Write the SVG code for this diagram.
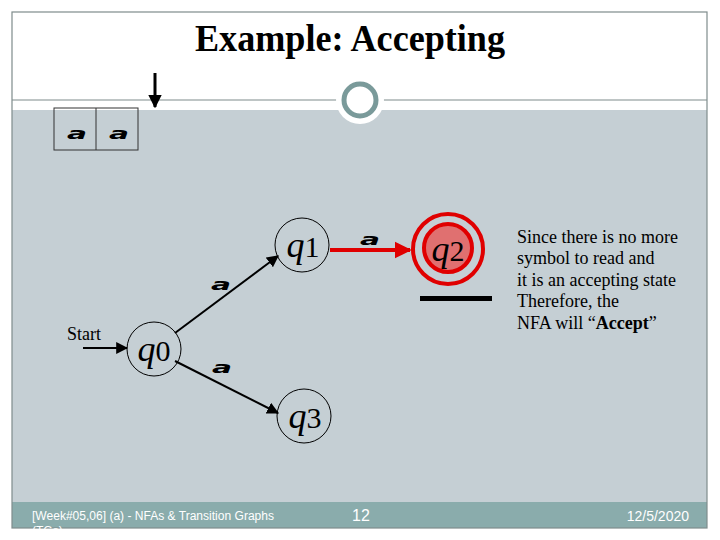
<svg xmlns="http://www.w3.org/2000/svg" width="720" height="540" viewBox="0 0 720 540">
<style>
.node{fill:none;stroke:#000;stroke-width:1}
.ql{font-family:"Liberation Serif",serif;font-size:36px;font-style:italic;fill:#000}
.qs{font-style:normal;font-size:30px}
.sym{font-family:"DejaVu Sans",sans-serif;font-style:italic;font-weight:bold;font-size:16px;fill:#000}
.edge{stroke:#000;stroke-width:2;fill:none}
.txt{font-family:"Liberation Serif",serif;font-size:18px;fill:#000}
.foot{font-family:"Liberation Sans",sans-serif;fill:#fff}
</style>
<defs>
<marker id="ah" viewBox="0 0 10 10" refX="9" refY="5" markerWidth="6" markerHeight="6" orient="auto" markerUnits="strokeWidth"><path d="M0,0 L10,5 L0,10 z" fill="#000"/></marker>
<marker id="ahh" viewBox="0 0 10 10" refX="9" refY="5" markerWidth="4.5" markerHeight="4.5" orient="auto" markerUnits="strokeWidth"><path d="M0,0 L10,5 L0,10 z" fill="#000"/></marker>
<marker id="ahr" viewBox="0 0 10 10" refX="9" refY="5" markerWidth="4.3" markerHeight="4.3" orient="auto" markerUnits="strokeWidth"><path d="M0,0 L10,5 L0,10 z" fill="#e00000"/></marker>
<clipPath id="slide"><rect x="0" y="0" width="720" height="533"/></clipPath>
</defs>
<rect width="720" height="540" fill="#fff"/>
<g id="background">
<rect x="12" y="110" width="695" height="392" fill="#c5cfd4"/>
<rect x="12" y="502" width="695" height="26" fill="#8aacac"/>
<rect x="12" y="12" width="695" height="516" fill="none" stroke="#7f8c8c" stroke-width="1.2"/>
<line x1="12" y1="100" x2="707" y2="100" stroke="#7f8c8c" stroke-width="1.2"/>
<circle cx="360" cy="100" r="24" fill="#fff"/>
<circle cx="360" cy="100" r="16" fill="#fff" stroke="#7a9a9a" stroke-width="5"/>
</g>
<text id="title" x="350" y="51" text-anchor="middle" font-family="Liberation Serif,serif" font-size="37" font-weight="bold" textLength="310" lengthAdjust="spacingAndGlyphs">Example: Accepting</text>
<g id="tape">
<rect x="54" y="108" width="84" height="42" fill="none" stroke="#333" stroke-width="1"/>
<line x1="96" y1="108" x2="96" y2="150" stroke="#333" stroke-width="1"/>
<text class="sym" x="67" y="139" textLength="20" lengthAdjust="spacingAndGlyphs">a</text>
<text class="sym" x="109" y="139" textLength="20" lengthAdjust="spacingAndGlyphs">a</text>
</g>
<g id="head">
<line x1="155" y1="73" x2="155" y2="107" stroke="#000" stroke-width="3" marker-end="url(#ahh)"/>
</g>
<g id="connectors">
<line class="edge" x1="83" y1="348" x2="127" y2="348" marker-end="url(#ah)"/>
<line class="edge" x1="175" y1="333" x2="278" y2="256" marker-end="url(#ah)"/>
<line class="edge" x1="175" y1="361" x2="278" y2="413" marker-end="url(#ah)"/>
<line x1="330" y1="250" x2="410" y2="250" stroke="#e00000" stroke-width="4" marker-end="url(#ahr)"/>
<text class="sym" x="211" y="290" textLength="20" lengthAdjust="spacingAndGlyphs">a</text>
<text class="sym" x="212" y="373" textLength="20" lengthAdjust="spacingAndGlyphs">a</text>
<text class="sym" x="360" y="245" textLength="20" lengthAdjust="spacingAndGlyphs">a</text>
<text class="txt" x="67" y="340" font-size="15">Start</text>
</g>
<g id="q0">
<circle class="node" cx="154" cy="349" r="27"/>
<text class="ql" x="154" y="361" text-anchor="middle">q<tspan class="qs">0</tspan></text>
</g>
<g id="q1">
<circle class="node" cx="302" cy="245" r="27"/>
<text class="ql" x="303" y="257" text-anchor="middle">q<tspan class="qs">1</tspan></text>
</g>
<g id="q2">
<circle cx="448" cy="249" r="35" fill="none" stroke="#e00000" stroke-width="4"/>
<circle cx="448" cy="248" r="24" fill="#e07070" stroke="#e00000" stroke-width="4"/>
<text class="ql" x="448" y="261" text-anchor="middle">q<tspan class="qs">2</tspan></text>
<rect x="420" y="296" width="72" height="5" fill="#000"/>
</g>
<g id="q3">
<circle class="node" cx="304" cy="416" r="27"/>
<text class="ql" x="305" y="428" text-anchor="middle">q<tspan class="qs">3</tspan></text>
</g>
<g id="note">
<text class="txt" x="517" y="243">Since there is no more</text>
<text class="txt" x="517" y="264">symbol to read and</text>
<text class="txt" x="517" y="286">it is an accepting state</text>
<text class="txt" x="517" y="307">Therefore, the</text>
<text class="txt" x="517" y="329">NFA will “<tspan font-weight="bold">Accept</tspan>”</text>
</g>
<g id="footer" clip-path="url(#slide)">
<text class="foot" x="32" y="520" font-size="12" textLength="242" lengthAdjust="spacingAndGlyphs">[Week#05,06] (a) - NFAs &amp; Transition Graphs</text>
<text class="foot" x="32" y="535" font-size="12" fill="#dfe6e6">(TGs)</text>
<text class="foot" x="352" y="521" font-size="16">12</text>
<text class="foot" x="689" y="521" font-size="14" text-anchor="end">12/5/2020</text>
</g>
</svg>
